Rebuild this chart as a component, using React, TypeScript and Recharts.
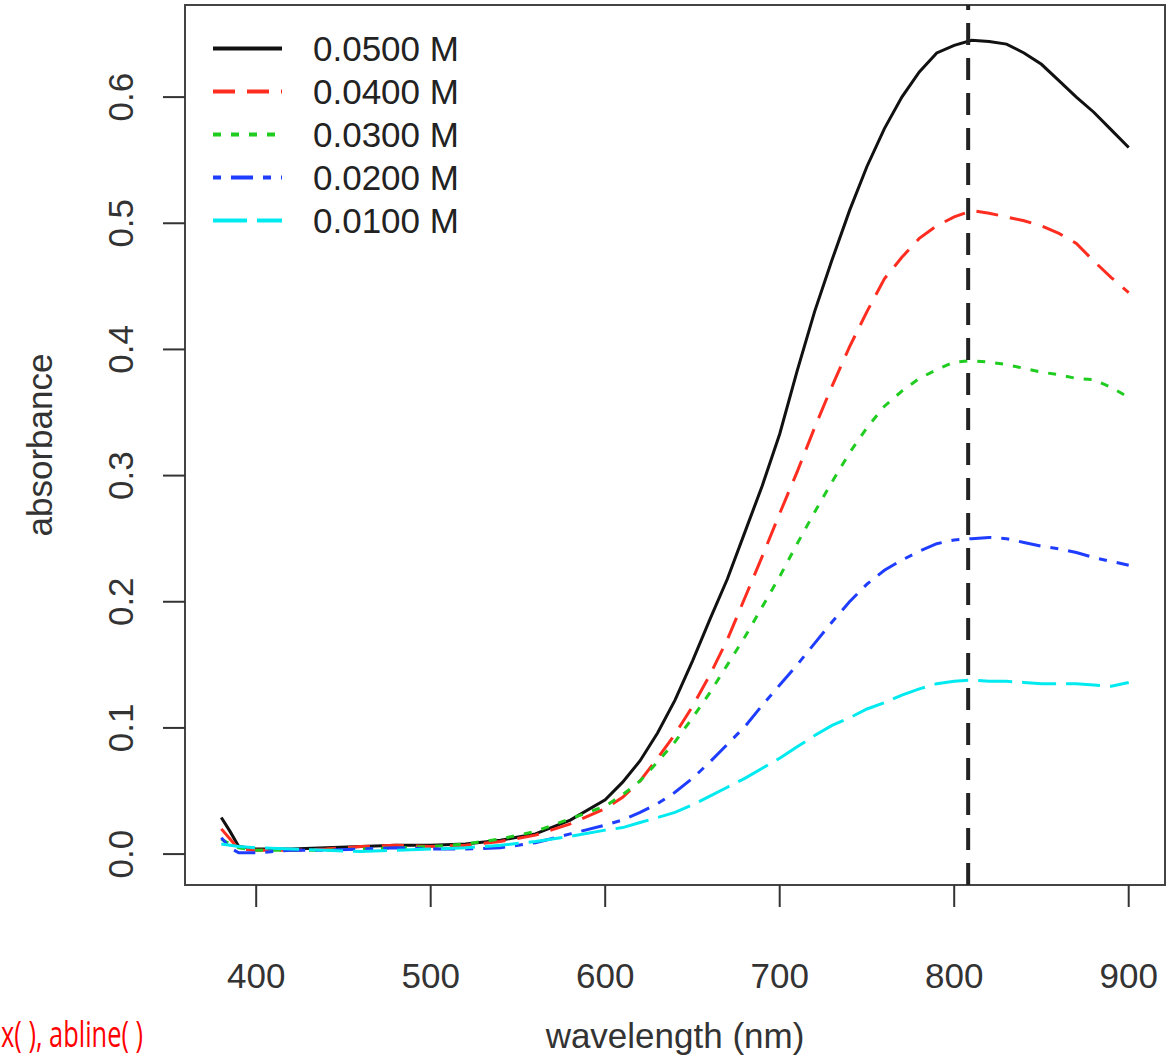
import { Legend, Line, LineChart, ReferenceArea, ReferenceLine, XAxis, YAxis } from "recharts";

const wavelengths = [
  380, 385, 390, 400, 420, 440, 460, 480, 500, 520, 540, 560, 580, 600, 610, 620, 630, 640, 650, 660, 670, 680, 690,
  700, 710, 720, 730, 740, 750, 760, 770, 780, 790, 800, 810, 820, 830, 840, 850, 860, 870, 880, 890, 900
];

const conc050 = [
  0.029, 0.018, 0.006, 0.004, 0.004, 0.005, 0.006, 0.007, 0.007, 0.008, 0.011, 0.016, 0.027, 0.043, 0.057, 0.074,
  0.096, 0.122, 0.153, 0.186, 0.218, 0.255, 0.292, 0.333, 0.383, 0.43, 0.471, 0.51, 0.545, 0.575, 0.6, 0.62, 0.635,
  0.641, 0.645, 0.644, 0.642, 0.635, 0.626, 0.613, 0.6, 0.588, 0.574, 0.56
];
const conc040 = [
  0.02, 0.012, 0.004, 0.003, 0.003, 0.004, 0.006, 0.007, 0.006, 0.007, 0.01, 0.015, 0.024, 0.036, 0.045, 0.058, 0.076,
  0.095, 0.117, 0.142, 0.17, 0.203, 0.236, 0.27, 0.303, 0.338, 0.371, 0.402, 0.43, 0.456, 0.473, 0.488, 0.498, 0.505,
  0.51, 0.508, 0.505, 0.502, 0.498, 0.492, 0.484, 0.47, 0.457, 0.445
];
const conc030 = [
  0.012, 0.008, 0.005, 0.003, 0.003, 0.003, 0.004, 0.005, 0.006, 0.008, 0.012, 0.018, 0.028, 0.038, 0.047, 0.058,
  0.073, 0.089, 0.108, 0.128, 0.15, 0.172, 0.196, 0.22, 0.246, 0.271, 0.295, 0.318, 0.338, 0.355, 0.367, 0.377, 0.384,
  0.39, 0.391, 0.39, 0.388, 0.385, 0.382, 0.38, 0.377, 0.376, 0.37, 0.362
];
const conc020 = [
  0.013, 0.005, 0.001, 0.001, 0.003, 0.003, 0.004, 0.005, 0.004, 0.004, 0.005, 0.009, 0.016, 0.023, 0.027, 0.033,
  0.04, 0.049, 0.06, 0.073, 0.087, 0.101, 0.118, 0.134, 0.15, 0.167, 0.184, 0.2, 0.214, 0.225, 0.233, 0.24, 0.246,
  0.249, 0.25, 0.251, 0.25, 0.247, 0.244, 0.242, 0.239, 0.235, 0.232, 0.229
];
const conc010 = [
  0.008, 0.007, 0.006, 0.005, 0.004, 0.003, 0.002, 0.003, 0.004, 0.005, 0.007, 0.01, 0.014, 0.019, 0.021, 0.025,
  0.029, 0.033, 0.039, 0.046, 0.053, 0.06, 0.068, 0.076, 0.085, 0.094, 0.102, 0.108, 0.115, 0.12, 0.126, 0.131, 0.135,
  0.137, 0.138, 0.137, 0.137, 0.136, 0.135, 0.135, 0.135, 0.134, 0.133, 0.136
];

const xTicks = [400, 500, 600, 700, 800, 900];
const yTicks = [0, 0.1, 0.2, 0.3, 0.4, 0.5, 0.6];
const peakWavelength = 808;

const series = [
  { key: "c050", name: "0.0500 M", values: conc050, color: "#111111", dash: undefined },
  { key: "c040", name: "0.0400 M", values: conc040, color: "#ff2d20", dash: "22 12" },
  { key: "c030", name: "0.0300 M", values: conc030, color: "#1fcc1f", dash: "8 10" },
  { key: "c020", name: "0.0200 M", values: conc020, color: "#1f3dff", dash: "8 10 22 10" },
  { key: "c010", name: "0.0100 M", values: conc010, color: "#00eaf0", dash: "34 10" }
];

const data = wavelengths.map((wl, i) => {
  const row: Record<string, number> = { wl };
  series.forEach((s) => {
    row[s.key] = s.values[i];
  });
  return row;
});

const FONT = "'Liberation Sans', Arial, Helvetica, sans-serif";
const X_DOMAIN: [number, number] = [359.2, 920.8];
const Y_DOMAIN: [number, number] = [-0.0245, 0.673];

function YTick(props: any) {
  const { x, y, payload } = props;
  return (
    <text
      transform={`translate(${x}, ${y}) rotate(-90)`}
      textAnchor="middle"
      fontSize={35}
      fontFamily={FONT}
      fill="#333"
    >
      {Number(payload.value).toFixed(1)}
    </text>
  );
}

function SpectrumLegend() {
  return (
    <div style={{ fontFamily: FONT, fontSize: 35, color: "#222" }}>
      {series.map((s) => (
        <div key={s.key} style={{ display: "flex", alignItems: "center", height: 43 }}>
          <svg width={77} height={43}>
            <line x1={8} x2={77} y1={21.5} y2={21.5} stroke={s.color} strokeWidth={4} strokeDasharray={s.dash} />
          </svg>
          <span style={{ marginLeft: 31, lineHeight: "43px" }}>{s.name}</span>
        </div>
      ))}
    </div>
  );
}

export default function App() {
  return (
    <div style={{ position: "absolute", left: 0, top: 0, width: 1176, height: 1057, background: "#fff" }}>
      <LineChart width={1176} height={1057} data={data} margin={{ top: 5, right: 11, left: 0, bottom: 0 }}>
        <XAxis
          dataKey="wl"
          type="number"
          domain={X_DOMAIN}
          ticks={xTicks}
          allowDataOverflow
          height={172}
          axisLine={false}
          tickSize={22}
          tickMargin={56}
          tickLine={{ stroke: "#333", strokeWidth: 2 }}
          tick={{ fontSize: 35, fontFamily: FONT, fill: "#333" }}
          label={({ viewBox }: any) => (
            <text
              x={675}
              y={viewBox.y + 163}
              textAnchor="middle"
              fontSize={35}
              fontFamily={FONT}
              fill="#333"
            >
              wavelength (nm)
            </text>
          )}
        />
        <YAxis
          type="number"
          domain={Y_DOMAIN}
          ticks={yTicks}
          allowDataOverflow
          width={185}
          axisLine={false}
          tickSize={22}
          tickMargin={30}
          tickLine={{ stroke: "#333", strokeWidth: 2 }}
          tick={<YTick />}
          label={({ viewBox }: any) => (
            <text
              transform={`translate(${viewBox.x + 52}, ${viewBox.y + viewBox.height / 2}) rotate(-90)`}
              textAnchor="middle"
              fontSize={35}
              fontFamily={FONT}
              fill="#333"
            >
              absorbance
            </text>
          )}
        />
        <ReferenceArea
          x1={X_DOMAIN[0]}
          x2={X_DOMAIN[1]}
          y1={Y_DOMAIN[0]}
          y2={Y_DOMAIN[1]}
          fill="none"
          stroke="#444"
          strokeWidth={2}
          ifOverflow="extendDomain"
        />
        {series.map((s) => (
          <Line
            key={s.key}
            dataKey={s.key}
            name={s.name}
            type="linear"
            stroke={s.color}
            strokeWidth={3}
            strokeDasharray={s.dash}
            dot={false}
            activeDot={false}
            isAnimationActive={false}
          />
        ))}
        <ReferenceLine x={peakWavelength} stroke="#222" strokeWidth={4} strokeDasharray="22 13" />
        <Legend
          layout="vertical"
          align="center"
          verticalAlign="middle"
          wrapperStyle={{ left: 205, top: 27, width: 320 }}
          content={() => <SpectrumLegend />}
        />
      </LineChart>
      <svg style={{ position: "absolute", left: 0, top: 1000 }} width={200} height={57}>
        <text
          x={1}
          y={47}
          fontSize={37}
          fontFamily="'Liberation Sans Narrow', 'Open Sans', sans-serif"
          fill="#ff0000"
          textLength={142}
          lengthAdjust="spacingAndGlyphs"
        >
          x( ), abline( )
        </text>
      </svg>
    </div>
  );
}
